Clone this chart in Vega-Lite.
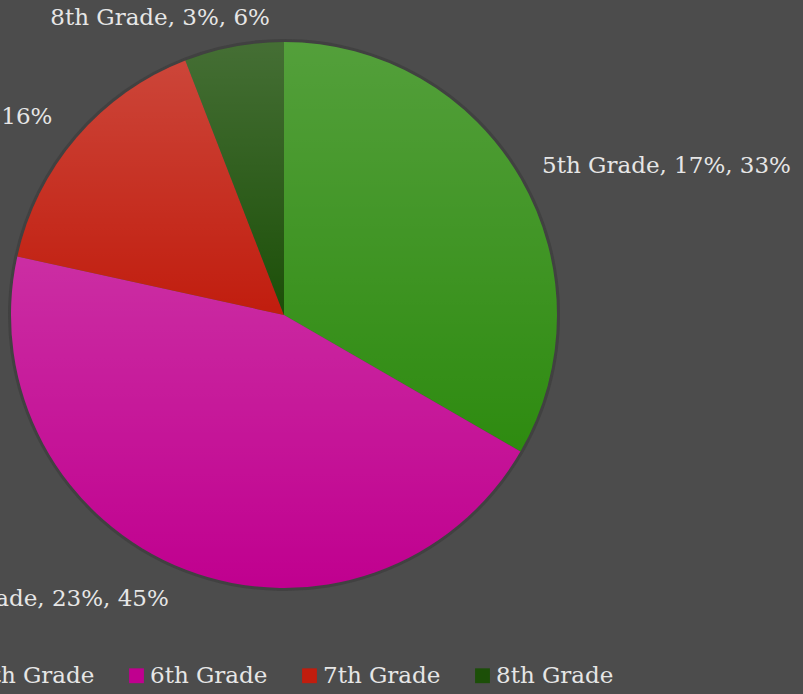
{
  "$schema": "https://vega.github.io/schema/vega-lite/v6.json",
  "width": 568,
  "height": 630,
  "autosize": {"type": "none"},
  "padding": {"left": 0, "top": 0, "right": 235, "bottom": 64},
  "background": "#4c4c4c",
  "config": {"view": {"stroke": null}},
  "data": {
    "values": [
      {"grade": "5th Grade", "value": 17, "order": 1, "label": "5th Grade, 17%, 33%"},
      {"grade": "6th Grade", "value": 23, "order": 2, "label": "6th Grade, 23%, 45%"},
      {"grade": "7th Grade", "value": 8, "order": 3, "label": "7th Grade, 8%, 16%"},
      {"grade": "8th Grade", "value": 3, "order": 4, "label": "8th Grade, 3%, 6%"}
    ]
  },
  "encoding": {
    "theta": {"field": "value", "type": "quantitative", "stack": true},
    "detail": {"field": "grade", "type": "nominal"},
    "order": {"field": "order", "type": "quantitative"}
  },
  "layer": [
    {"mark": {"type": "arc", "radius": 276, "fill": "#414141"}},
    {
      "mark": {"type": "arc", "radius": 273},
      "encoding": {
        "color": {
          "field": "grade",
          "type": "nominal",
          "scale": {
            "domain": ["5th Grade", "6th Grade", "7th Grade", "8th Grade"],
            "range": ["#2e8b10", "#c0008f", "#c11d0e", "#1c4f08"]
          },
          "legend": {
            "orient": "none",
            "legendX": -48,
            "legendY": 664,
            "direction": "horizontal",
            "columns": 4,
            "title": null,
            "labelFont": "DejaVu Serif",
            "labelFontSize": 23,
            "labelColor": "#e6e6e6",
            "symbolType": "square",
            "symbolSize": 220,
            "symbolStrokeWidth": 0,
            "labelOffset": 2,
            "columnPadding": 30,
            "padding": 0
          }
        }
      }
    },
    {
      "mark": {
        "type": "arc",
        "radius": 273,
        "fill": {
          "gradient": "linear",
          "x1": 0, "y1": 0, "x2": 0, "y2": 1,
          "stops": [
            {"offset": 0, "color": "rgba(255,255,255,0.18)"},
            {"offset": 1, "color": "rgba(255,255,255,0)"}
          ]
        }
      }
    },
    {
      "mark": {"type": "text", "radius": 298, "align": "left", "baseline": "middle", "font": "DejaVu Serif", "fontSize": 23, "fill": "#e6e6e6"},
      "encoding": {"text": {"condition": {"test": "datum.grade === '5th Grade'", "field": "label"}, "value": ""}}
    },
    {
      "mark": {"type": "text", "radius": 296, "thetaOffset": 0.03, "align": "right", "baseline": "top", "font": "DejaVu Serif", "fontSize": 23, "fill": "#e6e6e6"},
      "encoding": {"text": {"condition": {"test": "datum.grade === '6th Grade'", "field": "label"}, "value": ""}}
    },
    {
      "mark": {"type": "text", "radius": 305, "align": "right", "baseline": "middle", "font": "DejaVu Serif", "fontSize": 23, "fill": "#e6e6e6"},
      "encoding": {"text": {"condition": {"test": "datum.grade === '7th Grade'", "field": "label"}, "value": ""}}
    },
    {
      "mark": {"type": "text", "radius": 311, "thetaOffset": -0.225, "align": "center", "baseline": "bottom", "font": "DejaVu Serif", "fontSize": 23, "fill": "#e6e6e6"},
      "encoding": {"text": {"condition": {"test": "datum.grade === '8th Grade'", "field": "label"}, "value": ""}}
    }
  ]
}
